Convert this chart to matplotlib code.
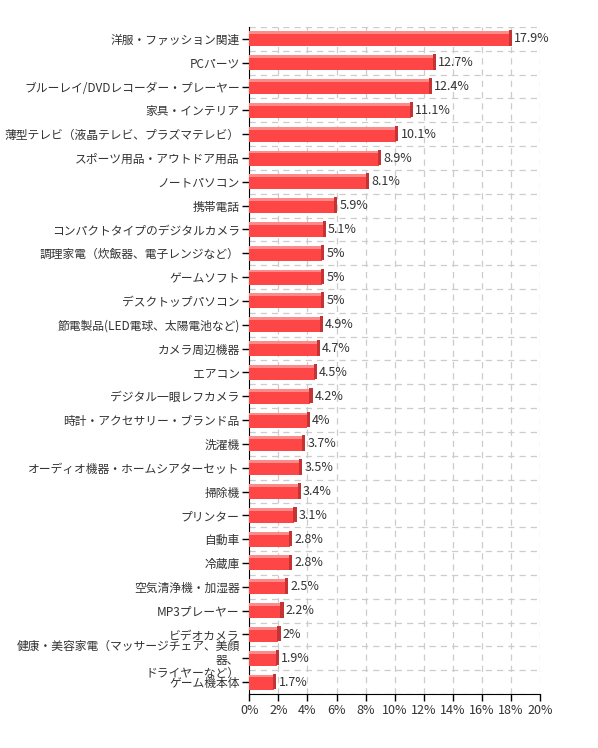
import matplotlib
matplotlib.use("Agg")
import matplotlib.pyplot as plt
import numpy as np

plt.rcParams['font.family'] = ['Noto Sans CJK JP', 'DejaVu Sans']

categories = [
    "洋服・ファッション関連",
    "PCパーツ",
    "ブルーレイ/DVDレコーダー・プレーヤー",
    "家具・インテリア",
    "薄型テレビ（液晶テレビ、プラズマテレビ）",
    "スポーツ用品・アウトドア用品",
    "ノートパソコン",
    "携帯電話",
    "コンパクトタイプのデジタルカメラ",
    "調理家電（炊飯器、電子レンジなど）",
    "ゲームソフト",
    "デスクトップパソコン",
    "節電製品(LED電球、太陽電池など)",
    "カメラ周辺機器",
    "エアコン",
    "デジタル一眼レフカメラ",
    "時計・アクセサリー・ブランド品",
    "洗濯機",
    "オーディオ機器・ホームシアターセット",
    "掃除機",
    "プリンター",
    "自動車",
    "冷蔵庫",
    "空気清浄機・加湿器",
    "MP3プレーヤー",
    "ビデオカメラ",
    "健康・美容家電（マッサージチェア、美顔\n器、\nドライヤーなど）",
    "ゲーム機本体",
]
values = [17.9, 12.7, 12.4, 11.1, 10.1, 8.9, 8.1, 5.9, 5.1, 5, 5, 5, 4.9, 4.7,
          4.5, 4.2, 4, 3.7, 3.5, 3.4, 3.1, 2.8, 2.8, 2.5, 2.2, 2, 1.9, 1.7]
xticks = [0, 2, 4, 6, 8, 10, 12, 14, 16, 18, 20]

fig = plt.figure(figsize=(5.98, 7.48), dpi=100)
ax = fig.add_axes([0.417, 0.0722, 0.486, 0.8917])

n = len(categories)
y = np.arange(n)
vals = np.array(values)
h = 0.63
side = 0.22

# main faces
ax.barh(y, vals, height=h, color="#ff4646", zorder=3, linewidth=0)
# top highlight
ax.barh(y - h / 2 + 0.06, vals, height=0.12, color="#ff8a8a", zorder=4, linewidth=0)
# dark right side
ax.barh(y - 0.03, np.full(n, side), left=vals - side * 0.3, height=h + 0.02,
        color="#c43434", zorder=4, linewidth=0)

for yi, v in zip(y, vals):
    ax.text(v + 0.3, yi, f"{v:g}%", va="center", ha="left", fontsize=9,
            color="#333333", zorder=5)

ax.set_ylim(n - 0.5, -0.5)
ax.set_xlim(0, 20)
ax.set_xticks(xticks)
ax.set_xticklabels([f"{t}%" for t in xticks], fontsize=9, color="#333333")
ax.set_yticks(y)
ax.set_yticklabels(categories, fontsize=8.5, color="#333333", linespacing=1.05)

# grid
for t in xticks[1:]:
    ax.axvline(t, color="#cccccc", linestyle=(0, (5, 4)), linewidth=0.9, zorder=1)
for b in np.arange(n + 1) - 0.5:
    ax.axhline(b, color="#cccccc", linestyle=(0, (5, 4)), linewidth=0.9, zorder=1)

for s in ["top", "right"]:
    ax.spines[s].set_visible(False)
ax.spines["left"].set_color("black")
ax.spines["bottom"].set_color("black")
ax.tick_params(axis="both", length=5, width=1, color="black", pad=2)

fig.savefig("out.png", dpi=100)
